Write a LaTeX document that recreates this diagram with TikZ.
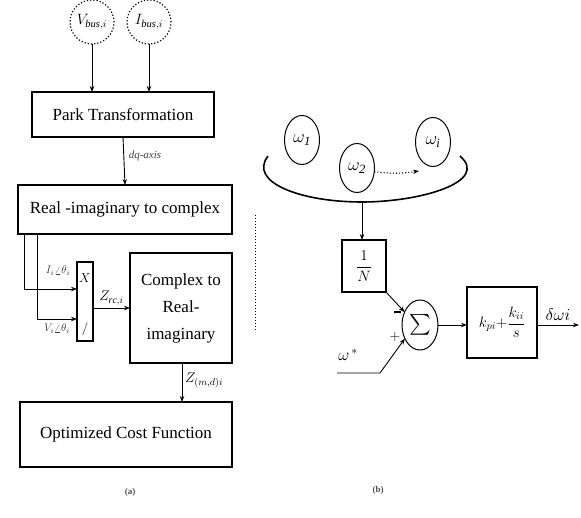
\RequirePackage{fix-cm}
\documentclass[tikz,border=0pt]{standalone}
\usepackage{fontspec}
\setmainfont{Liberation Serif}
\usepackage{amsmath}
\usetikzlibrary{arrows.meta,shapes.geometric}
\begin{document}
\begin{tikzpicture}[x=1pt,y=-1pt,
  every node/.style={inner sep=0pt,outer sep=0pt},
  blk/.style={draw,line width=1.3pt,align=center,font=\fontsize{17}{27}\selectfont},
  src/.style={draw,circle,dotted,line width=1.2pt,minimum size=44pt,font=\fontsize{15}{16}\selectfont},
  oval/.style={draw,ellipse,line width=1pt,minimum width=35pt,minimum height=49pt,font=\fontsize{18}{18}\selectfont},
  wire/.style={line width=0.9pt},
  arr/.style={wire,-{Stealth[length=6pt,width=4.5pt]}},
  lbl/.style={font=\fontsize{11}{12}\selectfont,text=black!75}]
\useasboundingbox (0,0) rectangle (581,518);

% ---------- (a) cost-function chain ----------
\node[src] (vb) at (92,22) {$V_{\mathit{bus},i}$};
\node[src] (ib) at (149,22) {$I_{\mathit{bus},i}$};
\node[blk,minimum width=182pt,minimum height=45pt] (park) at (123,114.5) {Park Transformation};
\node[blk,minimum width=214pt,minimum height=49pt] (ri) at (125,209.5) {Real -imaginary to complex};
\node[draw,line width=1.1pt,minimum width=16pt,minimum height=79pt] (mult) at (85,301.5) {};
\node[font=\fontsize{13}{13}\selectfont] (xs) at (85,278) {$X$};
\node[font=\fontsize{13}{13}\selectfont] (ds) at (85,329) {$/$};
\node[blk,minimum width=102pt,minimum height=110pt] (cx) at (181,308) {Complex to\\Real-\\imaginary};
\node[blk,minimum width=212pt,minimum height=65pt] (opt) at (126,434.5) {Optimized Cost Function};

\draw[arr] (vb.south) -- (vb.south |- park.north);
\draw[arr] (ib.south) -- (ib.south |- park.north);
\draw[arr] (park.south) -- (ri.north) node[pos=0.4,right=5pt,lbl,font=\fontsize{11}{12}\itshape] {dq-axis};
\draw[arr] ([xshift=19pt]ri.south west) |- ([yshift=-17.5pt]mult.west);
\draw[arr] ([xshift=6pt]ri.south west) |- ([yshift=12.5pt]mult.west);
\node[lbl] (il) at (58,271) {$I_i\angle\theta_i$};
\node[lbl] (vl) at (57,329) {$V_i\angle\theta_i$};
\draw[arr] (mult.east |- cx.west) -- (cx.west) node[pos=0.5,above=3pt,font=\fontsize{14}{14}\selectfont] {$Z_{\mathit{rc},i}$};
\draw[arr] ([xshift=1pt]cx.south) -- ([xshift=1pt]cx.south |- opt.north) node[pos=0.45,right=3pt,font=\fontsize{14}{14}\selectfont] {$Z_{(m,d)i}$};
\node[font=\fontsize{9}{10}\selectfont\bfseries,text=black!70] (capa) at (130,492) {(a)};

% separator
\draw[dotted,line width=1pt] (255,215) -- (255,332);

% ---------- (b) frequency consensus ----------
\node[oval] (w1) at (302,140) {$\omega_{\mathit{1}}$};
\node[oval] (w2) at (357,168) {$\omega_{\mathit{2}}$};
\node[oval] (wi) at (433,142) {$\omega_{\mathit{i}}$};
\coordinate (dotend) at (419,171);
\draw[dotted,line width=1.1pt,-{Stealth[length=6pt,width=4.5pt]}] (w2.-12) to[bend right=8] (dotend);
\coordinate (arcl) at (268,156);
\coordinate (arcb) at (362,202);
\coordinate (arcr) at (460,156);
\draw[line width=1.6pt] (arcl) .. controls (248,182) and (300,202) .. (arcb)
  .. controls (420,202) and (490,182) .. (arcr);
\node[blk,minimum width=44pt,minimum height=52pt,font=\fontsize{15}{15}\selectfont] (invn) at (364,266) {$\dfrac{1}{N}$};
\draw[arr] (arcb) -- (arcb |- invn.north);
\node[oval,minimum width=36pt,minimum height=50pt,font=\fontsize{22}{22}\selectfont] (sum) at (420,325) {$\textstyle\sum$};
\draw[arr] (invn.south east) -- (sum.140);
% minus sign beside the summing junction
\draw[line width=1.4pt] (394,312) -- (401,312);
\node[font=\fontsize{14}{14}\selectfont] (pl) at (395,337) {$+$};
\coordinate (wst) at (337,373);
\coordinate (wbd) at (380,373);
\draw[arr] (wst) -- (wbd) -- (sum.222);
\node[font=\fontsize{17}{18}\selectfont] (wstar) at (348,355) {$\omega^{\,*}$};
\node[blk,minimum width=70pt,minimum height=71pt,font=\fontsize{15}{15}\selectfont] (pi) at (502,322.5) {$k_{pi}{+}\dfrac{k_{ii}}{s}$};
\draw[arr] (sum.east) -- (pi.west |- sum.east);
\coordinate (out) at (579,325);
\draw[arr] (pi.east |- sum.east) -- (out) node[pos=0.5,above=4pt,font=\fontsize{17}{18}\selectfont] {$\delta\omega i$};
\node[font=\fontsize{9}{10}\selectfont\bfseries,text=black!70] (capb) at (378,490) {(b)};
\end{tikzpicture}
\end{document}
